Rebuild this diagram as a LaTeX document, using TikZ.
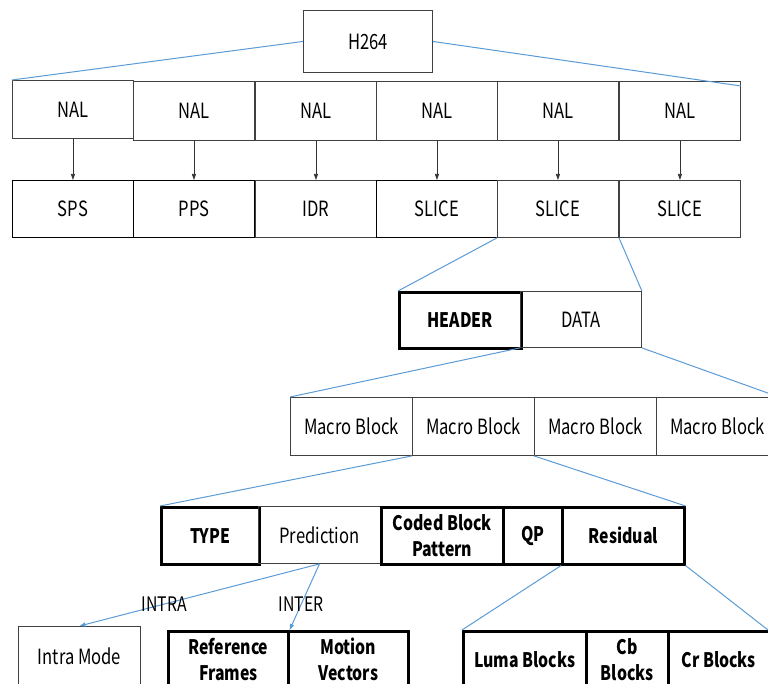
\documentclass[tikz,border=0pt]{standalone}
\usepackage{fontspec}
\setmainfont{Noto Sans CJK KR}[FakeStretch=0.79]
\usetikzlibrary{arrows.meta}
\definecolor{linkblue}{RGB}{91,155,213}
\begin{document}
\begin{tikzpicture}[x=1pt,y=-1pt,
  font=\fontsize{21}{26}\selectfont,
  cell/.style={draw=black!75,line width=0.9pt,anchor=north west,inner sep=0pt,
    minimum width=#1,minimum height=57pt,align=center},
  cell/.default=121pt,
  heavy/.style={cell=#1,draw=black,line width=2.6pt,font=\fontsize{20}{26}\selectfont\bfseries},
  heavy/.default=121pt,
  link/.style={draw=linkblue,line width=1pt},
  down/.style={draw=black!80,line width=0.7pt,-{Triangle[length=6pt,width=4pt]}},
  pick/.style={link,-{Triangle[length=6pt,width=4pt]}},
  tag/.style={font=\fontsize{20}{24}\selectfont,inner sep=1pt}]
\useasboundingbox (0,0) rectangle (768,684);
\clip (0,0) rectangle (768,684);

% root of the stream
\node[cell=129pt,minimum height=62pt] (h264) at (303,10) {H264};

% NAL units
\node[cell,minimum height=58pt] (nal1) at (12,80) {NAL};
\foreach \i/\x in {2/133,3/255,4/376,5/497,6/619}
  \node[cell,minimum height=59pt] (nal\i) at (\x,81) {NAL};

% payload of each NAL unit
\node[cell,draw=black] (p1) at (12,180) {SPS};
\node[cell,draw=black] (p2) at (133,180) {PPS};
\node[cell] (p3) at (255,180) {IDR};
\node[cell,draw=black] (p4) at (376,180) {SLICE};
\node[cell] (p5) at (497,180) {SLICE};
\node[cell] (p6) at (619,180) {SLICE};
\foreach \i in {1,...,6}
  \draw[down] (nal\i.south) -- (p\i.north);

\draw[link] (h264.west) -- (nal1.north west);
\draw[link] (h264.east) -- ([yshift=-5pt]nal6.north east);

% slice layout
\node[heavy=122pt,minimum height=56pt] (hdr) at (398,291) {HEADER};
\node[cell,minimum height=56pt] (dat) at (520,291) {DATA};
\draw[link] (p5.south west) -- (hdr.north west);
\draw[link] (p6.south west) -- (dat.north east);

% macro blocks
\foreach \i/\x in {1/290,2/412,3/534,4/656}
  \node[cell=122pt,minimum height=58pt] (mb\i) at (\x,397) {Macro Block};
\draw[link] (dat.south west) -- (mb1.north west);
\draw[link] (dat.south east) -- (mb4.north east);

% macro block syntax
\node[heavy=98pt] (typ) at (160,506) {TYPE};
\node[cell=122pt] (pre) at (258,506) {Prediction};
\node[heavy=122pt] (cbp) at (380,506) {Coded Block\\Pattern};
\node[heavy=59pt] (qp) at (502,506) {QP};
\node[heavy=122pt] (res) at (561,506) {Residual};
\draw[link] (mb2.south west) -- (typ.north west);
\draw[link] (mb3.south west) -- (res.north east);

% prediction variants
\node[cell=122pt,minimum height=60pt] (intra) at (18,626) {Intra Mode};
\node[heavy=120pt] (ref) at (167,630) {Reference\\Frames};
\node[heavy=120pt] (mv) at (287,630) {Motion\\Vectors};
\draw[pick] (pre.south) -- node[tag,pos=0.646] {INTRA} (intra.north);
\draw[pick] (pre.south) -- node[tag,pos=0.61] {INTER} (ref.north east);

% residual blocks
\node[heavy=123pt] (luma) at (462,630) {Luma Blocks};
\node[heavy=82pt] (cb) at (585,630) {Cb\\Blocks};
\node[heavy=101pt] (cr) at (667,630) {Cr Blocks};
\draw[link] (res.south west) -- (luma.north west);
\draw[link] (res.south east) -- ([xshift=101pt]cr.north west);
\end{tikzpicture}
\end{document}
